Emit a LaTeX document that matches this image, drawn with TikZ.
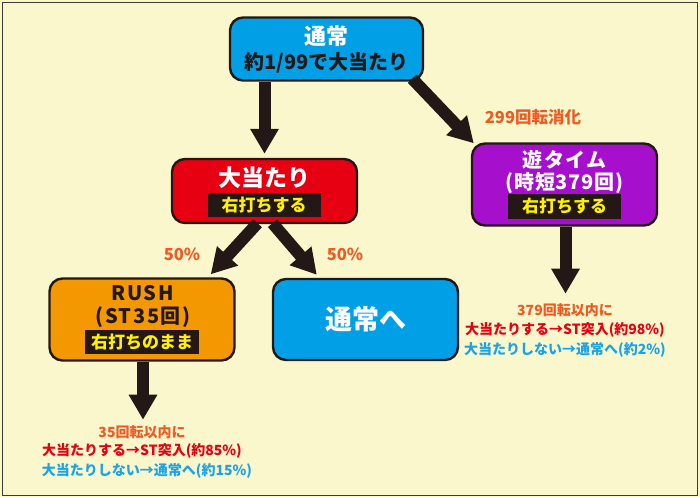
\documentclass[tikz,border=0pt]{standalone}
\usepackage{fontspec}
\setmainfont{Noto Sans CJK JP}
\usetikzlibrary{arrows.meta,calc}

\definecolor{bgcream}{HTML}{FBF7CC}
\definecolor{framegray}{HTML}{3C3A36}
\definecolor{inkblack}{HTML}{231815}
\definecolor{tsujoblue}{HTML}{009FE6}
\definecolor{ooatarired}{HTML}{E60012}
\definecolor{yupurple}{HTML}{A610CC}
\definecolor{rushorange}{HTML}{F39800}
\definecolor{labelorange}{HTML}{EE5A24}
\definecolor{textred}{HTML}{E60012}
\definecolor{textblue}{HTML}{1AA3E8}
\definecolor{hitoyellow}{HTML}{FFF100}

\tikzset{
  flowbox/.style={draw=inkblack, line width=2.4pt, rounded corners=13pt,
    minimum width=185pt, minimum height=63pt, inner sep=0pt},
  titletext/.style={text=white, font=\bfseries\fontsize{21}{24}\selectfont, inner sep=0pt},
  hitobox/.style={fill=inkblack, text=hitoyellow, font=\bfseries\fontsize{17}{20}\selectfont,
    minimum width=113pt, minimum height=24pt, inner sep=0pt},
  bigarrow/.style={draw=inkblack, line width=12pt, -{Triangle[width=27pt,length=25pt]}},
  smalllabel/.style={font=\bfseries\fontsize{14}{16}\selectfont, inner sep=0pt},
  ratelabel/.style={text=labelorange, font=\bfseries\fontsize{16.5}{18}\selectfont, inner sep=0pt}
}

\begin{document}
\begin{tikzpicture}[x=1pt,y=-1pt]

\fill[bgcream] (0,0) rectangle (700,497);
\draw[framegray, line width=1.4pt] (2.5,2.5) rectangle (697.5,495.5);

% boxes
\node[flowbox, fill=tsujoblue, minimum width=193pt] (tsujo) at (326.5,49) {};
\node[titletext, font=\bfseries\fontsize{22}{24}\selectfont] (tsujo title) at (326.5,36) {通常};
\node[font=\bfseries\fontsize{20}{22}\selectfont, text=inkblack, inner sep=0pt] (tsujo prob) at (326.5,63) {約1/99で大当たり};

\node[flowbox, fill=ooatarired, minimum height=64pt] (ooatari) at (264.5,191) {};
\node[titletext, font=\bfseries\fontsize{23}{26}\selectfont] (ooatari title) at (264.5,178) {大当たり};
\node[hitobox] (ooatari hito) at (264,205) {右打ちする};

\node[flowbox, fill=yupurple, minimum height=82pt] (yu) at (564.5,184.5) {};
\node[titletext, font=\bfseries\fontsize{20}{24}\selectfont\addfontfeatures{LetterSpace=6}] (yu title) at (564.5,160) {遊タイム};
\node[titletext, font=\bfseries\fontsize{20}{24}\selectfont\addfontfeatures{LetterSpace=4}] (yu jitan) at (564.5,183) {(時短379回)};
\node[hitobox, minimum height=25pt] (yu hito) at (564.5,206.5) {右打ちする};

\node[flowbox, fill=rushorange, minimum height=82pt] (rush) at (142,319.5) {};
\node[titletext, text=inkblack, font=\bfseries\fontsize{20}{24}\selectfont\addfontfeatures{LetterSpace=8}] (rush title) at (142.5,293) {RUSH};
\node[titletext, text=inkblack, font=\bfseries\fontsize{20}{24}\selectfont\addfontfeatures{LetterSpace=8}] (rush st) at (143,317) {(ST35回)};
\node[hitobox, minimum width=114pt] (rush hito) at (142,342) {右打ちのまま};

\node[flowbox, fill=tsujoblue, minimum height=81pt] (tsujohe) at (365.5,319.5) {};
\node[titletext, font=\bfseries\fontsize{27}{30}\selectfont] (tsujohe title) at (366,319) {通常へ};

% arrows
\draw[bigarrow] (tsujo.south -| ooatari.north) -- ($(ooatari.north)+(0,-4)$);
\draw[bigarrow] ($(tsujo.south east)+(-12,-3)$) -- ($(yu.north west)+(3,1)$);
\draw[bigarrow] ($(ooatari.south)+(-7,-1)$) -- ($(rush.north east)+(-25,-3)$);
\draw[bigarrow] ($(ooatari.south)+(8,-1)$) -- ($(tsujohe.north west)+(45,-3)$);
\draw[bigarrow] ($(yu.south)+(1,0)$) -- ++(0,67) coordinate (yu end);
\draw[bigarrow] ($(rush.south)+(1,0)$) -- ++(0,58) coordinate (rush end);

% labels
\node[ratelabel] (shoka) at (533,117) {299回転消化};
\node[ratelabel] (rate left) at (182,254) {50\%};
\node[ratelabel] (rate right) at (345,254) {50\%};

\node[smalllabel, text=labelorange] (yu limit) at (565,310) {379回転以内に};
\node[smalllabel, text=textred] (yu hit) at (565,330) {大当たりする→ST突入(約98\%)};
\node[smalllabel, text=textblue] (yu miss) at (565,350) {大当たりしない→通常へ(約2\%)};

\node[smalllabel, text=labelorange] (rush limit) at (142,432) {35回転以内に};
\node[smalllabel, text=textred] (rush hit) at (142,451) {大当たりする→ST突入(約85\%)};
\node[smalllabel, text=textblue] (rush miss) at (147,471) {大当たりしない→通常へ(約15\%)};

\end{tikzpicture}
\end{document}
